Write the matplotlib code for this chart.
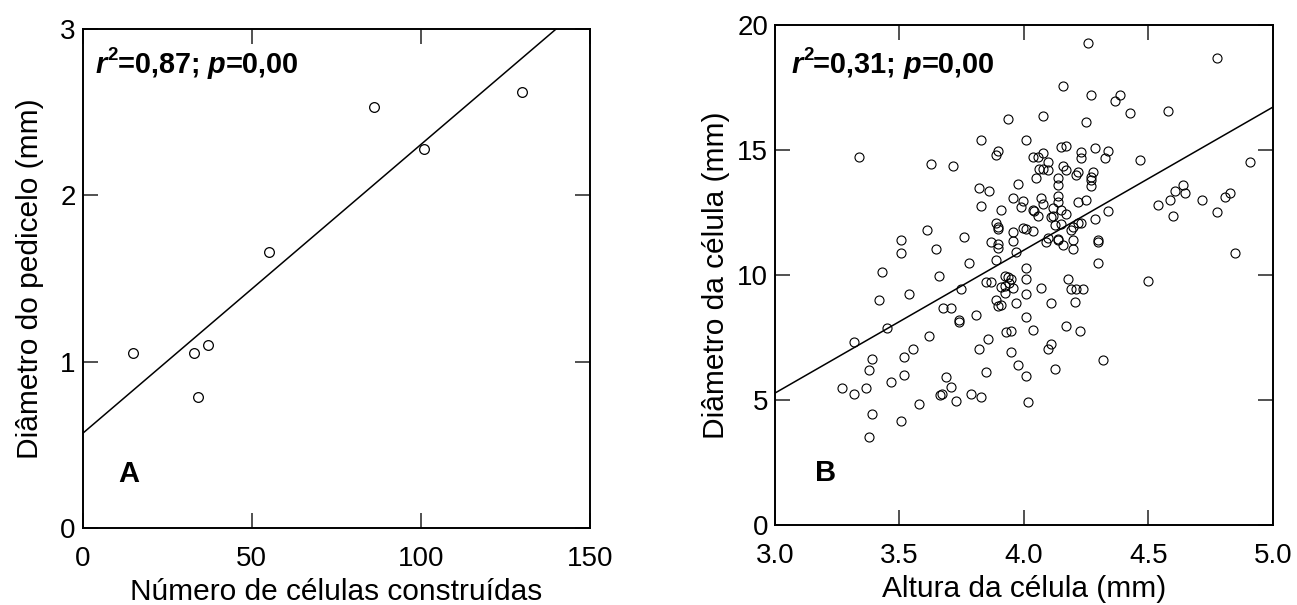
import numpy as np
import matplotlib
matplotlib.use("Agg")
import matplotlib.pyplot as plt

plt.rcParams['font.family'] = ['Liberation Sans', 'DejaVu Sans']

# Panel A: cells built vs pedicel diameter
cells_built = [15, 33, 37, 34, 55, 86, 101, 130]
pedicel_diam = [1.05, 1.05, 1.10, 0.79, 1.66, 2.53, 2.28, 2.62]

# Panel B: cell height vs cell diameter
cell_height = [
    4.268, 3.937, 4.076, 4.248, 3.827, 4.007, 3.896, 3.888, 4.147, 4.167,
    4.228, 4.228, 4.286, 4.336, 4.327, 3.716, 4.037, 4.058, 4.078, 4.098,
    4.062, 4.078, 4.098, 4.158, 4.167, 4.216, 4.207, 4.276, 4.268, 4.268,
    4.268, 4.048, 4.137, 4.137, 3.977, 3.818, 3.858, 3.957, 3.997, 3.987,
    4.067, 4.078, 4.137, 4.137, 4.216, 4.248, 3.827, 3.906, 4.035, 4.042,
    4.058, 4.118, 4.147, 4.167, 4.108, 4.118, 4.336, 4.286, 3.888, 3.897,
    3.897, 3.759, 3.997, 4.007, 3.957, 4.037, 4.125, 4.147, 4.187, 4.198,
    4.216, 4.228, 3.866, 3.897, 3.897, 3.957, 3.968, 4.098, 4.088, 4.138,
    4.138, 4.158, 4.198, 4.198, 4.297, 4.297,
    3.778, 3.888, 4.297, 4.007, 4.007, 3.925, 3.936, 3.946, 3.941, 3.847,
    3.867, 3.908, 3.925, 3.955, 3.925, 4.007, 4.067, 3.747, 3.888, 3.897,
    3.908, 3.968, 4.107, 4.177, 4.187, 4.208, 4.237, 4.206, 3.676, 3.707,
    3.807, 3.738, 3.738, 4.007, 3.926, 3.946, 4.037, 4.167, 4.226, 3.857,
    3.818, 3.946, 4.107, 4.098, 3.977, 4.126, 4.316, 3.847, 4.007, 3.687,
    3.707, 3.669, 3.663, 3.727, 3.787, 3.827, 4.017, 3.657,
    3.337, 3.628, 3.609, 3.507, 3.507, 3.648, 3.428, 3.538, 3.418, 3.448,
    3.319, 3.617, 3.556, 3.517, 3.388, 3.378, 3.517, 3.467, 3.268, 3.319,
    3.367, 3.388, 3.378, 3.507, 3.578,
    4.257, 4.776, 4.157, 4.387, 4.367, 4.427, 4.577, 4.467, 4.906, 4.538,
    4.586, 4.606, 4.637, 4.647, 4.597, 4.716, 4.807, 4.826, 4.776, 4.847,
    4.498,
]
cell_diam = [
    17.20, 16.23, 16.35, 16.12, 15.39, 15.39, 14.95, 14.80, 15.12, 15.15,
    14.92, 14.67, 15.08, 14.97, 14.68, 14.35, 14.71, 14.71, 14.87, 14.52,
    14.25, 14.25, 14.21, 14.37, 14.20, 14.13, 14.00, 14.13, 13.91, 13.80,
    13.56, 13.89, 13.89, 13.59, 13.65, 13.48, 13.35, 13.08, 12.95, 12.72,
    13.09, 12.83, 13.17, 12.93, 12.91, 13.00, 12.75, 12.60, 12.61, 12.57,
    12.36, 12.69, 12.60, 12.45, 12.32, 12.36, 12.57, 12.24, 12.07, 11.93,
    11.83, 11.53, 11.89, 11.85, 11.73, 11.75, 12.00, 12.04, 11.80, 11.91,
    12.09, 12.09, 11.31, 11.23, 11.07, 11.36, 10.93, 11.49, 11.33, 11.45,
    11.40, 11.19, 11.40, 11.03, 11.40, 11.31,
    10.49, 10.60, 10.49, 10.29, 9.83, 9.97, 9.93, 9.83, 9.67, 9.71,
    9.73, 9.53, 9.56, 9.47, 9.29, 9.24, 9.47, 9.43, 9.00, 8.76,
    8.80, 8.87, 8.87, 9.84, 9.43, 9.44, 9.44, 8.93, 8.69, 8.67,
    8.40, 8.20, 8.11, 8.33, 7.73, 7.76, 7.80, 7.95, 7.76, 7.44,
    7.04, 6.93, 7.24, 7.03, 6.40, 6.23, 6.60, 6.13, 5.96, 5.91,
    5.51, 5.24, 5.19, 4.97, 5.24, 5.12, 4.93, 9.95,
    14.73, 14.43, 11.81, 11.41, 10.88, 11.05, 10.12, 9.25, 9.00, 7.87,
    7.32, 7.57, 7.03, 6.71, 6.64, 6.19, 6.01, 5.72, 5.49, 5.23,
    5.47, 4.44, 3.53, 4.17, 4.85,
    19.27, 18.68, 17.57, 17.21, 16.95, 16.49, 16.57, 14.61, 14.51, 12.81,
    12.99, 13.36, 13.59, 13.28, 12.36, 13.00, 13.13, 13.29, 12.51, 10.87,
    9.77,
]

x_ticks_a = [0, 50, 100, 150]
y_ticks_a = [0, 1, 2, 3]
x_ticks_b = [3.0, 3.5, 4.0, 4.5, 5.0]
y_ticks_b = [0, 5, 10, 15, 20]

fig = plt.figure(figsize=(12.97, 6.05), dpi=100)
ax_a = fig.add_axes([0.0638, 0.1273, 0.3911, 0.8248])
ax_b = fig.add_axes([0.5975, 0.1322, 0.3840, 0.8264])


def style_axes(ax):
    for sp in ax.spines.values():
        sp.set_linewidth(1.4)
    ax.tick_params(direction='in', length=10.5, width=1.1, labelsize=20,
                   top=True, right=True, color='#222222')
    ax.tick_params(axis='x', pad=13)
    ax.tick_params(axis='y', pad=5)


def stat_text(ax, x, y, r2, p):
    fs = 20.8
    t = ax.text(x, y, "r", transform=ax.transAxes, fontsize=fs,
                fontweight='bold', fontstyle='italic', va='baseline')
    sup = ax.annotate("2", xy=(1, 0.52), xycoords=t, fontsize=13.5,
                      fontweight='bold', va='bottom')
    t2 = ax.annotate("=" + r2 + "; ", xy=(1, 0), xycoords=(sup, t),
                     fontsize=fs, fontweight='bold', va='bottom')
    t3 = ax.annotate("p", xy=(1, 0), xycoords=t2, fontsize=fs,
                     fontweight='bold', fontstyle='italic', va='bottom')
    ax.annotate("=" + p, xy=(1, 0), xycoords=t3, fontsize=fs,
                fontweight='bold', va='bottom')


# panel A
xa = np.array(cells_built)
ya = np.array(pedicel_diam)
slope_a, icpt_a = np.polyfit(xa, ya, 1)
line_x = np.array([0, 150])
ax_a.plot(line_x, icpt_a + slope_a * line_x, color='black', lw=1.1)
ax_a.plot(xa, ya, 'o', mfc='white', mec='black', ms=7, mew=0.9)
ax_a.set_xlim(0, 150)
ax_a.set_ylim(0, 3)
ax_a.set_xticks(x_ticks_a)
ax_a.set_yticks(y_ticks_a)
style_axes(ax_a)
ax_a.set_xlabel("Número de células construídas", fontsize=21.5, labelpad=4.5)
ax_a.set_ylabel("Diâmetro do pedicelo (mm)", fontsize=21.5, labelpad=12)
stat_text(ax_a, 0.026, 0.912, "0,87", "0,00")
ax_a.text(0.07, 0.092, "A", transform=ax_a.transAxes, fontsize=21,
          fontweight='bold', va='baseline')

# panel B
xb = np.array(cell_height)
yb = np.array(cell_diam)
slope_b, icpt_b = np.polyfit(xb, yb, 1)
line_xb = np.array([3.0, 5.0])
ax_b.plot(line_xb, icpt_b + slope_b * line_xb, color='black', lw=1.1)
ax_b.plot(xb, yb, 'o', mfc='none', mec='black', ms=6.5, mew=0.8)
ax_b.set_xlim(3.0, 5.0)
ax_b.set_ylim(0, 20)
ax_b.set_xticks(x_ticks_b)
ax_b.set_xticklabels([f"{v:.1f}" for v in x_ticks_b])
ax_b.set_yticks(y_ticks_b)
style_axes(ax_b)
ax_b.set_xlabel("Altura da célula (mm)", fontsize=21.5, labelpad=4.5)
ax_b.set_ylabel("Diâmetro da célula (mm)", fontsize=21.5, labelpad=5)
stat_text(ax_b, 0.0335, 0.9046, "0,31", "0,00")
ax_b.text(0.08, 0.088, "B", transform=ax_b.transAxes, fontsize=21,
          fontweight='bold', va='baseline')

fig.savefig("out.png", dpi=100)
